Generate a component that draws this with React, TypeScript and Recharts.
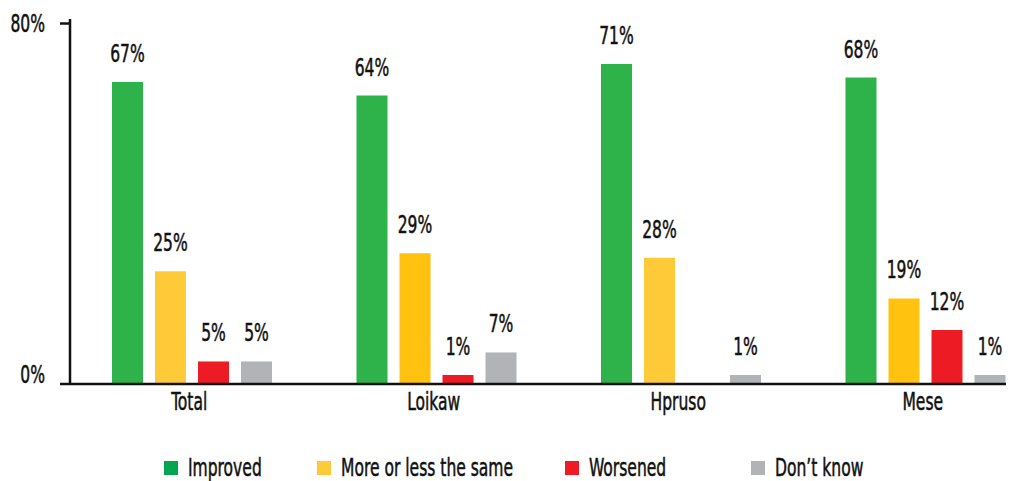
import { BarChart, Bar, XAxis, YAxis, LabelList, Cell } from 'recharts';

const categories = ['Total', 'Loikaw', 'Hpruso', 'Mese'];
const improved = [67, 64, 71, 68];
const sameAsBefore = [25, 29, 28, 19];
const worsened: (number | null)[] = [5, 1, null, 12];
const dontKnow = [5, 7, 1, 1];
const yTicks = [0, 80];

const data = categories.map((name, i) => ({
  name,
  improved: improved[i],
  same: sameAsBefore[i],
  worsened: worsened[i],
  dontKnow: dontKnow[i],
}));

// bar fills differ a little by group in the original
const sameColors = ['#ffca38', '#ffc20e', '#ffca38', '#ffc20e'];

const legendItems = [
  { label: 'Improved', color: '#00a651' },
  { label: 'More or less the same', color: '#ffca38' },
  { label: 'Worsened', color: '#ed1c24' },
  { label: 'Don\u2019t know', color: '#b1b3b6' },
];
const legendX = [164, 317, 565, 751];

// no condensed font available, so squeeze DejaVu Sans Condensed horizontally
const FONT = '"DejaVu Sans Condensed", "DejaVu Sans", sans-serif';
const FS = 24;
const SX = 0.72;

// tiny values still get a visible stub, like the original
const smallBar = (v: any) => (v == null ? 0 : 9);

const Squeezed = ({ x, y, anchor, children }: any) => (
  <text
    x={0}
    y={0}
    transform={`translate(${x},${y}) scale(${SX},1)`}
    textAnchor={anchor}
    fontSize={FS}
    fill="#111"
    stroke="#111"
    strokeWidth={0.5}
    fontFamily={FONT}
  >
    {children}
  </text>
);

const YTick = (props: any) => {
  const { x, y, payload } = props;
  const shift = payload.value === 0 ? -10 : 0;
  return (
    <Squeezed x={x - 13} y={y + shift + 8.5} anchor="end">
      {payload.value}%
    </Squeezed>
  );
};

const XTick = (props: any) => {
  const { x, y, payload } = props;
  return (
    <Squeezed x={x - 3} y={y + 17.5} anchor="middle">
      {payload.value}
    </Squeezed>
  );
};

const BarLabel = (props: any) => {
  const { x, y, width, value } = props;
  if (value == null) return null;
  return (
    <Squeezed x={x + width / 2} y={y - 20} anchor="middle">
      {value}%
    </Squeezed>
  );
};

const LegendBox = () => (
  <div style={{ position: 'absolute', left: 0, top: 456, width: 1014, height: 24, fontFamily: FONT, fontSize: FS, color: '#111' }}>
    {legendItems.map((item, i) => (
      <div key={item.label} style={{ position: 'absolute', left: legendX[i], top: 0, height: 24, display: 'flex', alignItems: 'center', whiteSpace: 'nowrap' }}>
        <span style={{ display: 'inline-block', width: 14, height: 14, background: item.color, marginRight: 10 }} />
        <span style={{ display: 'inline-block', transform: `scaleX(${SX})`, transformOrigin: 'left center', lineHeight: '24px', WebkitTextStroke: '0.5px #111' }}>
          {item.label}
        </span>
      </div>
    ))}
  </div>
);

export default function App() {
  return (
    <div style={{ marginLeft: -8, marginTop: -8, width: 1014, height: 481, overflow: 'hidden', background: '#fff', position: 'relative' }}>
      <BarChart
        width={1060}
        height={481}
        data={data}
        margin={{ top: 19, right: 12, left: 0, bottom: 67 }}
        barSize={31}
        barGap={12}
      >
        <XAxis
          dataKey="name"
          tickLine={false}
          tickSize={0}
          tickMargin={8}
          axisLine={{ stroke: '#111', strokeWidth: 2.5 }}
          tick={<XTick />}
          height={30}
        />
        <YAxis
          width={70}
          domain={[0, 81]}
          ticks={yTicks}
          tickSize={10}
          axisLine={{ stroke: '#111', strokeWidth: 2.5 }}
          tickLine={{ stroke: '#111', strokeWidth: 2.5 }}
          tick={<YTick />}
        />
        <Bar dataKey="improved" fill="#2db34a" isAnimationActive={false}>
          <LabelList dataKey="improved" content={<BarLabel />} />
        </Bar>
        <Bar dataKey="same" fill="#ffca38" isAnimationActive={false}>
          {data.map((d, i) => (
            <Cell key={d.name} fill={sameColors[i]} />
          ))}
          <LabelList dataKey="same" content={<BarLabel />} />
        </Bar>
        <Bar dataKey="worsened" fill="#ed1c24" minPointSize={smallBar} isAnimationActive={false}>
          <LabelList dataKey="worsened" content={<BarLabel />} />
        </Bar>
        <Bar dataKey="dontKnow" fill="#b1b3b6" minPointSize={smallBar} isAnimationActive={false}>
          <LabelList dataKey="dontKnow" content={<BarLabel />} />
        </Bar>
      </BarChart>
      <LegendBox />
    </div>
  );
}
